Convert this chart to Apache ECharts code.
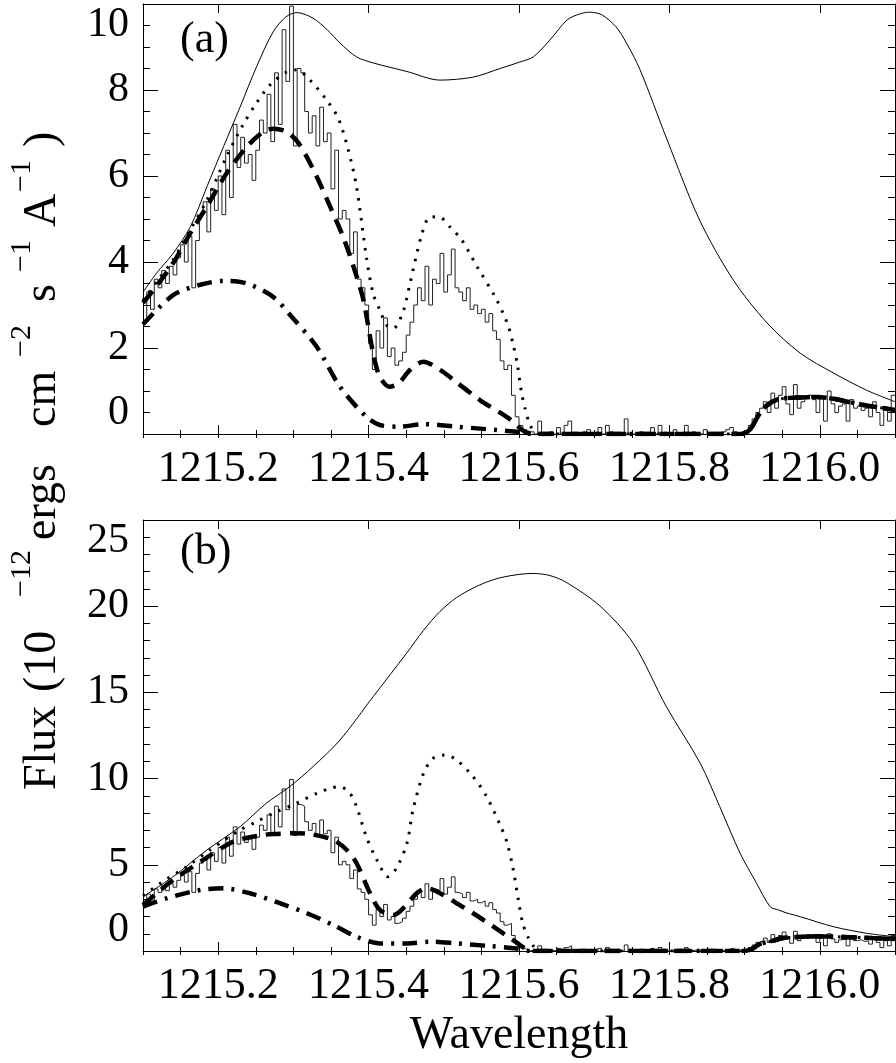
<!DOCTYPE html>
<html><head><meta charset="utf-8">
<script src="https://cdn.jsdelivr.net/npm/echarts@6/dist/echarts.min.js"></script>
<style>html,body{margin:0;padding:0;background:#fff}#c{width:896px;height:1063px}</style>
</head><body><div id="c"></div>
<script>
// ---------- axes / ticks ----------
const xMin = 1215.1, xMax = 1216.1;
const xMajorTicks = [1215.2, 1215.4, 1215.6, 1215.8, 1216.0];
const aYMax = 10, aYMajor = 2, aYMinor = 0.5;
const bYMax = 25, bYMajor = 5, bYMinor = 1;

// ---------- observed spectrum (same data in both panels), bins of 0.005 A from 1215.100 ----------
const obsStart = 1215.1, obsBin = 0.005;
const obsFlux = [
  2.6, 3.3, 2.9, 3.6, 3.4, 3.8, 3.5, 3.9, 3.7, 4.1,
  4.4, 4.0, 4.6, 3.4, 4.5, 5.1, 5.4, 4.7, 5.7, 5.2,
  6.0, 5.1, 6.6, 5.5, 7.2, 6.2, 6.9, 6.3, 6.5, 5.9,
  6.6, 7.3, 7.0, 7.9, 6.8, 8.4, 7.2, 9.4, 8.2, 9.95,
  6.7, 8.5, 8.4, 7.5, 7.0, 7.4, 6.7, 7.6, 6.8, 7.0,
  5.7, 6.6, 5.0, 5.2, 5.0, 4.2, 4.7, 3.6, 3.4, 3.0,
  2.1, 1.5, 2.4, 2.0, 2.7, 1.8, 2.0, 1.6, 1.7, 1.9,
  2.3, 2.6, 3.0, 3.4, 3.1, 3.9, 3.0, 3.6, 3.5, 4.2,
  3.3, 3.7, 4.3, 3.4, 3.3, 3.1, 3.4, 2.9, 3.0, 2.8,
  2.9, 2.6, 2.8, 2.4, 2.2, 1.7, 1.5, 1.6, 0.9, 0.4,
  0.2, 0.1, 0.0, 0.05, 0.0, 0.3, 0.0, 0.0, 0.05, 0.0,
  0.15, 0.0, 0.2, 0.3, 0.0, 0.0, 0.0, 0.05, 0.1, 0.0,
  0.0, 0.15, 0.0, 0.2, 0.05, 0.0, 0.0, 0.0, 0.35, 0.0,
  0.0, 0.0, 0.05, 0.0, 0.0, 0.15, 0.0, 0.2, 0.0, 0.0,
  0.0, 0.1, 0.0, 0.0, 0.2, 0.0, 0.05, 0.0, 0.0, 0.1,
  0.0, 0.0, 0.0, 0.0, 0.05, 0.1, 0.15, 0.05, 0.0, 0.0,
  0.05, 0.2, 0.35, 0.5, 0.6, 0.75, 0.5, 0.95, 0.6, 0.9,
  1.1, 0.7, 0.45, 1.15, 0.6, 0.75, 0.85, 0.9, 0.8, 0.5,
  0.85, 0.3, 1.0, 0.7, 0.5, 0.65, 0.7, 0.3, 0.8, 0.6,
  0.65, 0.55, 0.6, 0.4, 0.75, 0.5, 0.2, 0.6, 0.3, 0.9
];

// ---------- panel (a) models ----------
const aSolidX = [1215.100,1215.118,1215.140,1215.163,1215.185,1215.207,1215.229,1215.251,1215.273,1215.290,1215.305,1215.326,1215.345,1215.362,1215.384,1215.406,1215.451,1215.495,1215.539,1215.575,1215.601,1215.619,1215.641,1215.664,1215.681,1215.694,1215.710,1215.729,1215.743,1215.761,1215.797,1215.840,1215.885,1215.930,1215.974,1216.018,1216.062,1216.100];
const aSolidY = [3.3,3.74,4.2,4.82,5.75,6.68,7.6,8.54,9.35,9.7,9.8,9.67,9.4,9.09,8.77,8.63,8.43,8.23,8.3,8.5,8.65,8.77,9.16,9.63,9.77,9.81,9.75,9.47,9.09,8.47,6.84,4.98,3.58,2.58,1.88,1.42,1.02,0.75];

const aDotX = [1215.100,1215.120,1215.140,1215.1625,1215.185,1215.211,1215.233,1215.251,1215.269,1215.291,1215.304,1215.322,1215.344,1215.360,1215.373,1215.384,1215.397,1215.406,1215.415,1215.424,1215.433,1215.446,1215.455,1215.471,1215.482,1215.495,1215.508,1215.524,1215.544,1215.568,1215.579,1215.586,1215.592,1215.598,1215.603,1215.608,1215.615,1215.625];
const aDotY = [3.1,3.58,4.05,4.74,5.44,6.45,7.19,7.70,8.12,8.42,8.47,8.23,7.77,7.33,6.6,5.75,4.12,3.27,2.88,2.53,2.46,2.85,3.5,4.66,5.05,5.04,4.82,4.51,3.9,3.2,2.8,2.5,2.1,1.6,1.0,0.6,0.2,0.0];

const aDashX = [1215.100,1215.114,1215.140,1215.1625,1215.187,1215.211,1215.238,1215.260,1215.273,1215.291,1215.307,1215.329,1215.349,1215.366,1215.380,1215.393,1215.406,1215.415,1215.428,1215.440,1215.455,1215.473,1215.495,1215.513,1215.548,1215.586,1215.608,1215.625];
const aDashY = [3.05,3.35,3.97,4.66,5.35,6.06,6.68,7.03,7.1,7.03,6.76,6.06,5.28,4.59,3.89,3.12,1.88,1.33,1.1,1.18,1.49,1.68,1.49,1.26,0.79,0.37,0.05,0.0];

const aDashDotX = [1215.100,1215.140,1215.176,1215.207,1215.238,1215.273,1215.298,1215.331,1215.362,1215.397,1215.415,1215.442,1215.473,1215.517,1215.597,1215.620];
const aDashDotY = [2.55,3.23,3.47,3.56,3.5,3.19,2.72,2.03,1.1,0.4,0.21,0.17,0.23,0.17,0.05,0.0];

const aWingX = [1215.895,1215.907,1215.920,1215.930,1215.943,1215.960,1215.974,1215.995,1216.018,1216.040,1216.063,1216.100];
const aWingY = [0.0,0.1,0.48,0.67,0.8,0.84,0.85,0.86,0.82,0.74,0.66,0.56];

// ---------- panel (b) models ----------
const bSolidX = [1215.100,1215.140,1215.185,1215.229,1215.264,1215.295,1215.326,1215.362,1215.406,1215.451,1215.473,1215.495,1215.517,1215.539,1215.557,1215.575,1215.601,1215.619,1215.641,1215.663,1215.708,1215.752,1215.796,1215.841,1215.867,1215.894,1215.915,1215.934,1215.945,1215.955,1215.974,1216.018,1216.062,1216.100];
const bSolidY = [3.15,4.31,5.86,7.21,8.57,9.53,10.69,12.24,14.75,17.3,18.6,19.7,20.5,21.05,21.4,21.65,21.85,21.9,21.78,21.38,20.0,17.85,14.17,10.89,8.37,5.67,4.0,2.57,2.38,2.22,1.99,1.41,1.03,0.83];

const bDotX = [1215.100,1215.123,1215.158,1215.189,1215.229,1215.251,1215.273,1215.304,1215.331,1215.350,1215.362,1215.375,1215.384,1215.397,1215.411,1215.426,1215.437,1215.451,1215.459,1215.473,1215.486,1215.502,1215.517,1215.539,1215.557,1215.575,1215.584,1215.592,1215.599,1215.605,1215.612,1215.620,1215.630];
const bDotY = [3.2,3.93,4.89,5.86,7.02,7.5,7.98,8.57,9.15,9.45,9.53,9.15,8.37,6.63,5.28,4.31,4.8,6.25,8.18,10.3,11.18,11.37,11.08,10.11,8.95,7.3,6.3,4.8,3.0,1.6,0.8,0.25,0.0];

const bDashX = [1215.100,1215.140,1215.180,1215.220,1215.260,1215.278,1215.304,1215.322,1215.353,1215.371,1215.384,1215.402,1215.415,1215.433,1215.446,1215.464,1215.477,1215.495,1215.517,1215.539,1215.566,1215.592,1215.610,1215.620];
const bDashY = [2.67,4.12,5.28,6.34,6.73,6.79,6.83,6.79,6.44,5.86,5.09,3.35,2.38,2.09,2.48,3.35,3.64,3.35,2.77,2.19,1.41,0.64,0.1,0.0];

const bDashDotX = [1215.100,1215.131,1215.176,1215.207,1215.242,1215.282,1215.318,1215.353,1215.384,1215.415,1215.451,1215.482,1215.517,1215.561,1215.597,1215.615];
const bDashDotY = [2.57,3.05,3.54,3.64,3.35,2.77,2.19,1.51,0.83,0.44,0.44,0.54,0.44,0.29,0.15,0.0];

const bWingX = [1215.895,1215.903,1215.911,1215.920,1215.938,1215.951,1215.975,1215.996,1216.040,1216.070,1216.100];
const bWingY = [0.0,0.02,0.15,0.4,0.6,0.75,0.82,0.85,0.8,0.75,0.7];

// ---------- axis title pieces (text, superscript flag) ----------
const yTitleParts = [
  ['Flux', false], ['(10', false], ['−12', true], ['ergs', false], ['cm', false],
  ['−2', true], ['s', false], ['−1', true], ['A', false], ['−1', true], [')', false]
];
const yTitleStarts = [790, 692, 597, 540, 427, 357, 302, 272, 227, 192, 147];

// ---------- build ----------
const FONT = 'Liberation Serif';
const INK = '#000';
function pairs(xs, ys) { return xs.map((x, i) => [x, ys[i]]); }
function withWing(xs, ys, wx, wy) { return pairs(xs, ys).concat(pairs(wx, wy)); }
const obsData = obsFlux.map((v, i) => [obsStart + i * obsBin, v]);
obsData.push([obsStart + obsFlux.length * obsBin, obsFlux[obsFlux.length - 1]]);

const grids = [
  { left: 143, top: 4, width: 752, height: 430 },
  { left: 143, top: 520, width: 752, height: 431 }
];

const xAxes = [], yAxes = [];
[0, 1].forEach(g => {
  const base = { gridIndex: g, type: 'value', min: xMin, max: xMax, splitLine: { show: false } };
  xAxes.push(Object.assign({}, base, {
    position: 'bottom',
    axisLine: { show: true, onZero: false, lineStyle: { color: INK, width: 1 } },
    axisTick: { show: true, inside: true, length: 9, customValues: xMajorTicks, lineStyle: { color: INK } },
    axisLabel: { show: true, customValues: xMajorTicks, formatter: v => v.toFixed(1), fontFamily: FONT, fontSize: 44, color: INK, margin: 13 }
  }));
  xAxes.push(Object.assign({}, base, {
    position: 'bottom', interval: 0.05,
    axisLine: { show: false },
    axisTick: { show: true, inside: true, length: 4, lineStyle: { color: INK } },
    axisLabel: { show: false }
  }));
  xAxes.push(Object.assign({}, base, {
    position: 'top',
    axisLine: { show: true, onZero: false, lineStyle: { color: INK, width: 1 } },
    axisTick: { show: true, inside: true, length: 9, customValues: xMajorTicks, lineStyle: { color: INK } },
    axisLabel: { show: false }
  }));
  xAxes.push(Object.assign({}, base, {
    position: 'top', interval: 0.05,
    axisLine: { show: false },
    axisTick: { show: true, inside: true, length: 4, lineStyle: { color: INK } },
    axisLabel: { show: false }
  }));

  const yMax = g === 0 ? aYMax : bYMax;
  const yMaj = g === 0 ? aYMajor : bYMajor;
  const yMinr = g === 0 ? aYMinor : bYMinor;
  const yb = { gridIndex: g, type: 'value', min: 0, max: yMax, splitLine: { show: false } };
  yAxes.push(Object.assign({}, yb, {
    position: 'left', interval: yMaj,
    axisLine: { show: true, onZero: false, lineStyle: { color: INK, width: 1 } },
    axisTick: { show: true, inside: true, length: 15, lineStyle: { color: INK } },
    axisLabel: { show: true, fontFamily: FONT, fontSize: 42, color: INK, margin: 14,
      verticalAlignMinLabel: 'bottom', verticalAlignMaxLabel: 'top' }
  }));
  yAxes.push(Object.assign({}, yb, {
    position: 'left', interval: yMinr,
    axisLine: { show: false },
    axisTick: { show: true, inside: true, length: 7, lineStyle: { color: INK } },
    axisLabel: { show: false }
  }));
  yAxes.push(Object.assign({}, yb, {
    position: 'right', interval: yMaj,
    axisLine: { show: true, onZero: false, lineStyle: { color: INK, width: 1 } },
    axisTick: { show: true, inside: true, length: 15, lineStyle: { color: INK } },
    axisLabel: { show: false }
  }));
  yAxes.push(Object.assign({}, yb, {
    position: 'right', interval: yMinr,
    axisLine: { show: false },
    axisTick: { show: true, inside: true, length: 7, lineStyle: { color: INK } },
    axisLabel: { show: false }
  }));
});

function line(g, data, style, smooth) {
  return {
    type: 'line', xAxisIndex: g * 4, yAxisIndex: g * 4, data: data,
    showSymbol: false, symbol: 'none', smooth: smooth ? 0.3 : false, silent: true,
    lineStyle: style, clip: true, z: 3
  };
}
const histStyle = { color: '#222', width: 1 };
const solidStyle = { color: INK, width: 1 };
const dotStyle = { color: INK, width: 3, type: [2.5, 7.5] };
const dashStyle = { color: INK, width: 4.5, type: [15, 9] };
const dashDotStyle = { color: INK, width: 4.5, type: [15, 8, 3, 8] };

const series = [];
[0, 1].forEach(g => {
  const h = line(g, obsData, histStyle, false); h.step = 'end';
  series.push(h);
  if (g === 0) {
    series.push(line(0, pairs(aSolidX, aSolidY), solidStyle, true));
    series.push(line(0, withWing(aDotX, aDotY, aWingX, aWingY), dotStyle, true));
    series.push(line(0, withWing(aDashX, aDashY, aWingX, aWingY), dashStyle, true));
    series.push(line(0, withWing(aDashDotX, aDashDotY, aWingX, aWingY), dashDotStyle, true));
  } else {
    series.push(line(1, pairs(bSolidX, bSolidY), solidStyle, true));
    series.push(line(1, withWing(bDotX, bDotY, bWingX, bWingY), dotStyle, true));
    series.push(line(1, withWing(bDashX, bDashY, bWingX, bWingY), dashStyle, true));
    series.push(line(1, withWing(bDashDotX, bDashDotY, bWingX, bWingY), dashDotStyle, true));
  }
});

const graphics = [
  { type: 'text', left: 180, top: 18, style: { text: '(a)', font: '44px "Liberation Serif"', fill: INK } },
  { type: 'text', left: 180, top: 530, style: { text: '(b)', font: '44px "Liberation Serif"', fill: INK } },
  { type: 'text', x: 519, y: 1036, style: { text: 'Wavelength', font: '46px "Liberation Serif"', fill: INK, align: 'center', verticalAlign: 'middle' } }
];
yTitleParts.forEach((p, i) => {
  graphics.push({
    type: 'text', x: p[1] ? 22 : 43, y: yTitleStarts[i], rotation: Math.PI / 2,
    style: { text: p[0], font: (p[1] ? '30px' : '46px') + ' "Liberation Serif"', fill: INK, align: 'left', verticalAlign: 'middle' }
  });
});

const chart = echarts.init(document.getElementById('c'), null, { renderer: 'canvas' });
chart.setOption({
  animation: false,
  backgroundColor: '#fff',
  grid: grids,
  xAxis: xAxes,
  yAxis: yAxes,
  series: series,
  graphic: graphics
});
</script>
</body></html>
